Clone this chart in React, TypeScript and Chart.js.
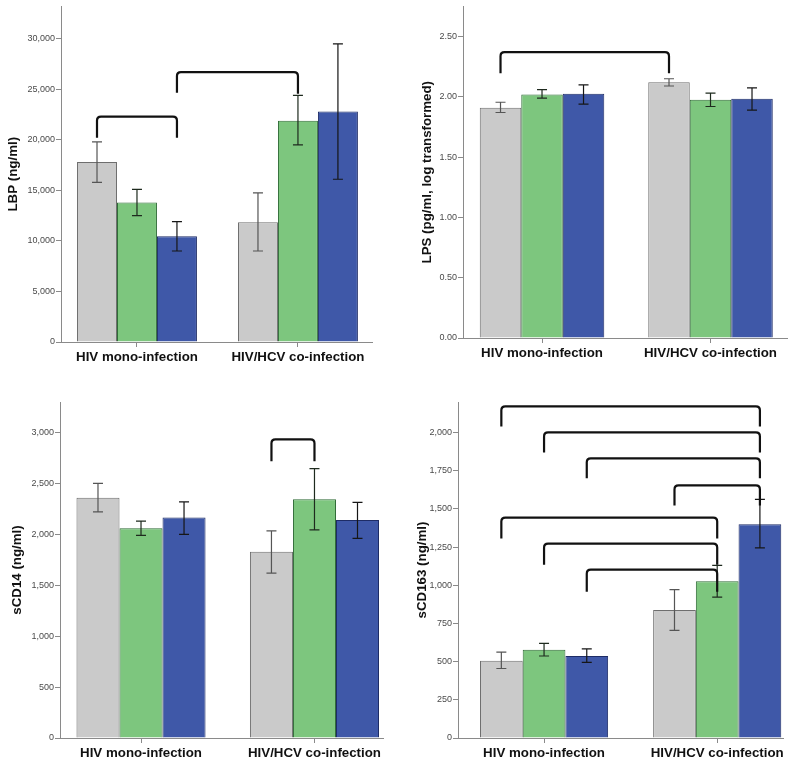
import React, { useEffect, useRef } from 'react';
import { Chart, registerables } from 'chart.js';
Chart.register(...registerables);

// ---------- data ----------
const CATEGORIES = ['HIV mono-infection', 'HIV/HCV co-infection'];
const SERIES_FILL = ['#CACACA', '#7DC67E', '#3F58A8'];
const SERIES_BORDER = ['#6E6E6E', '#2F6B36', '#1E2C66'];
const ERR_COLORS = ['#555555', '#1E2A1E', '#161616'];

// LBP
const LBP_GREY = [17800, 11850];
const LBP_GREEN = [13800, 21900];
const LBP_BLUE = [10450, 22800];
const LBP_GREY_CI = [[15800, 19800], [9000, 14750]];
const LBP_GREEN_CI = [[12500, 15100], [19500, 24400]];
const LBP_BLUE_CI = [[9000, 11900], [16100, 29500]];
const LBP_TICKS = [0, 5000, 10000, 15000, 20000, 25000, 30000];
// [fromSeries, fromCat, toSeries, toCat, topValue, leftEndValue, rightEndValue]
const LBP_BRACKETS = [
  [0, 0, 2, 0, 22300, 20200, 20200],
  [2, 0, 1, 1, 26700, 24650, 24550],
];

// LPS
const LPS_GREY = [1.91, 2.12];
const LPS_GREEN = [2.02, 1.975];
const LPS_BLUE = [2.025, 1.985];
const LPS_GREY_CI = [[1.87, 1.955], [2.09, 2.15]];
const LPS_GREEN_CI = [[1.99, 2.06], [1.92, 2.03]];
const LPS_BLUE_CI = [[1.94, 2.10], [1.89, 2.075]];
const LPS_TICKS = [0, 0.5, 1.0, 1.5, 2.0, 2.5];
const LPS_BRACKETS = [
  [0, 0, 0, 1, 2.37, 2.195, 2.195],
];

// sCD14
const CD14_GREY = [2360, 1830];
const CD14_GREEN = [2060, 2345];
const CD14_BLUE = [2165, 2140];
const CD14_GREY_CI = [[2220, 2500], [1620, 2035]];
const CD14_GREEN_CI = [[1990, 2130], [2045, 2645]];
const CD14_BLUE_CI = [[2000, 2320], [1960, 2315]];
const CD14_TICKS = [0, 500, 1000, 1500, 2000, 2500, 3000];
const CD14_BRACKETS = [
  [0, 1, 1, 1, 2933, 2717, 2717],
];

// sCD163
const CD163_GREY = [505, 838];
const CD163_GREEN = [578, 1027];
const CD163_BLUE = [537, 1400];
const CD163_GREY_CI = [[455, 562], [705, 972]];
const CD163_GREEN_CI = [[537, 620], [922, 1130]];
const CD163_BLUE_CI = [[495, 583], [1245, 1562]];
const CD163_TICKS = [0, 250, 500, 750, 1000, 1250, 1500, 1750, 2000];
const CD163_BRACKETS = [
  [0, 0, 2, 1, 2172, 2040, 2040],
  [1, 0, 2, 1, 2001, 1870, 1870],
  [2, 0, 2, 1, 1831, 1700, 1700],
  [0, 1, 2, 1, 1654, 1522, 1522],
  [0, 0, 1, 1, 1443, 1306, 1306],
  [1, 0, 1, 1, 1273, 1135, 1135],
  [2, 0, 1, 1, 1102, 958, 958],
];

// ---------- panel layout ----------
const FONT = '"Liberation Sans", Arial, sans-serif';

const PANELS = [
  {
    pos: { left: 0, top: 0, width: 400, height: 380 },
    area: { left: 61, top: 5, right: 372, bottom: 342 },
    title: 'LBP (ng/ml)', titlePad: 5,
    series: [LBP_GREY, LBP_GREEN, LBP_BLUE],
    ci: [LBP_GREY_CI, LBP_GREEN_CI, LBP_BLUE_CI],
    ticks: LBP_TICKS, decimals: 0, yMax: 33200,
    xMin: -0.472, xMax: 1.46, catPct: 0.745,
    brackets: LBP_BRACKETS,
  },
  {
    pos: { left: 400, top: 0, width: 400, height: 380 },
    area: { left: 63, top: 5, right: 387, bottom: 338 },
    title: 'LPS (pg/ml, log transformed)', titlePad: 19,
    series: [LPS_GREY, LPS_GREEN, LPS_BLUE],
    ci: [LPS_GREY_CI, LPS_GREEN_CI, LPS_BLUE_CI],
    ticks: LPS_TICKS, decimals: 2, yMax: 2.75,
    xMin: -0.469, xMax: 1.454, catPct: 0.739,
    brackets: LPS_BRACKETS,
  },
  {
    pos: { left: 0, top: 382, width: 400, height: 382 },
    area: { left: 60, top: 20, right: 383, bottom: 356 },
    title: 'sCD14 (ng/ml)', titlePad: 9,
    series: [CD14_GREY, CD14_GREEN, CD14_BLUE],
    ci: [CD14_GREY_CI, CD14_GREEN_CI, CD14_BLUE_CI],
    ticks: CD14_TICKS, decimals: 0, yMax: 3300,
    xMin: -0.467, xMax: 1.395, catPct: 0.744,
    brackets: CD14_BRACKETS,
  },
  {
    pos: { left: 400, top: 382, width: 400, height: 382 },
    area: { left: 58, top: 20, right: 383, bottom: 356 },
    title: 'sCD163 (ng/ml)', titlePad: 14,
    series: [CD163_GREY, CD163_GREEN, CD163_BLUE],
    ci: [CD163_GREY_CI, CD163_GREEN_CI, CD163_BLUE_CI],
    ticks: CD163_TICKS, decimals: 0, yMax: 2200,
    xMin: -0.497, xMax: 1.38, catPct: 0.74,
    brackets: CD163_BRACKETS,
  },
];

function Panel({ cfg }: { cfg: any }) {
  const ref = useRef<HTMLCanvasElement>(null);
  useEffect(() => {
    const { pos, area } = cfg;
    const overlay = {
      id: 'overlay',
      afterDatasetsDraw(chart: any) {
        const ctx = chart.ctx;
        const y = chart.scales.y;
        ctx.save();
        ctx.lineCap = 'butt';
        cfg.ci.forEach((ser: number[][], d: number) => {
          const meta = chart.getDatasetMeta(d);
          ser.forEach(([lo, hi], i) => {
            const x = meta.data[i].x;
            const y1 = y.getPixelForValue(lo);
            const y2 = y.getPixelForValue(hi);
            ctx.strokeStyle = ERR_COLORS[d];
            ctx.lineWidth = 1.2;
            ctx.beginPath();
            ctx.moveTo(x, y1); ctx.lineTo(x, y2);
            ctx.moveTo(x - 5, y1); ctx.lineTo(x + 5, y1);
            ctx.moveTo(x - 5, y2); ctx.lineTo(x + 5, y2);
            ctx.stroke();
          });
        });
        ctx.strokeStyle = '#111111';
        ctx.lineWidth = 2.2;
        ctx.lineJoin = 'round';
        cfg.brackets.forEach(([fs, fc, ts, tc, top, le, re]: number[]) => {
          const x1 = chart.getDatasetMeta(fs).data[fc].x;
          const x2 = chart.getDatasetMeta(ts).data[tc].x;
          const yt = y.getPixelForValue(top);
          const yl = y.getPixelForValue(le);
          const yr = y.getPixelForValue(re);
          const r = 4;
          ctx.beginPath();
          ctx.moveTo(x1, yl);
          ctx.lineTo(x1, yt + r);
          ctx.quadraticCurveTo(x1, yt, x1 + r, yt);
          ctx.lineTo(x2 - r, yt);
          ctx.quadraticCurveTo(x2, yt, x2, yt + r);
          ctx.lineTo(x2, yr);
          ctx.stroke();
        });
        ctx.restore();
      },
    };

    const chart = new Chart(ref.current as HTMLCanvasElement, {
      type: 'bar',
      data: {
        datasets: cfg.series.map((vals: number[], d: number) => ({
          data: vals.map((v, i) => ({ x: i, y: v })),
          backgroundColor: SERIES_FILL[d],
          borderColor: SERIES_BORDER[d],
          borderWidth: 1,
          categoryPercentage: cfg.catPct,
          barPercentage: 1,
        })),
      },
      options: {
        responsive: false,
        maintainAspectRatio: false,
        animation: false,
        layout: {
          padding: { left: 0, top: area.top, right: pos.width - area.right, bottom: 0 },
        },
        plugins: { legend: { display: false }, tooltip: { enabled: false } },
        scales: {
          x: {
            type: 'linear',
            min: cfg.xMin,
            max: cfg.xMax,
            offset: false,
            afterBuildTicks: (s: any) => { s.ticks = CATEGORIES.map((_, i) => ({ value: i })); },
            afterFit: (s: any) => { s.height = pos.height - area.bottom; },
            border: { display: true, color: '#8A8A8A', width: 1 },
            grid: { display: true, offset: false, drawOnChartArea: false, drawTicks: true, tickLength: 5, color: '#8A8A8A' },
            ticks: {
              autoSkip: false,
              maxRotation: 0,
              padding: 2,
              color: '#111111',
              font: { family: FONT, size: 13.3, weight: 'bold' },
              callback: (v: any) => CATEGORIES[Math.round(Number(v))] ?? '',
            },
          },
          y: {
            type: 'linear',
            min: 0,
            max: cfg.yMax,
            afterBuildTicks: (s: any) => { s.ticks = cfg.ticks.map((v: number) => ({ value: v })); },
            afterFit: (s: any) => { s.width = area.left; },
            border: { display: true, color: '#8A8A8A', width: 1 },
            grid: { display: true, drawOnChartArea: false, drawTicks: true, tickLength: 5, color: '#8A8A8A' },
            ticks: {
              padding: 1,
              color: '#4A4A4A',
              font: { family: FONT, size: 9 },
              callback: (v: any) => cfg.decimals > 0
                ? Number(v).toFixed(cfg.decimals)
                : Number(v).toLocaleString('en-US'),
            },
            title: {
              display: true,
              text: cfg.title,
              color: '#111111',
              font: { family: FONT, size: 13.3, weight: 'bold' },
              padding: { top: cfg.titlePad, bottom: 0 },
            },
          },
        },
      } as any,
      plugins: [overlay],
    });
    return () => chart.destroy();
  }, [cfg]);

  const { pos } = cfg;
  return (
    <div style={{ position: 'absolute', left: pos.left, top: pos.top, width: pos.width, height: pos.height }}>
      <canvas ref={ref} width={pos.width} height={pos.height} style={{ display: 'block' }} />
    </div>
  );
}

export default function App() {
  return (
    <div style={{ position: 'fixed', left: 0, top: 0, width: 800, height: 764, background: '#ffffff', overflow: 'hidden' }}>
      {PANELS.map((p, i) => <Panel key={i} cfg={p} />)}
    </div>
  );
}
